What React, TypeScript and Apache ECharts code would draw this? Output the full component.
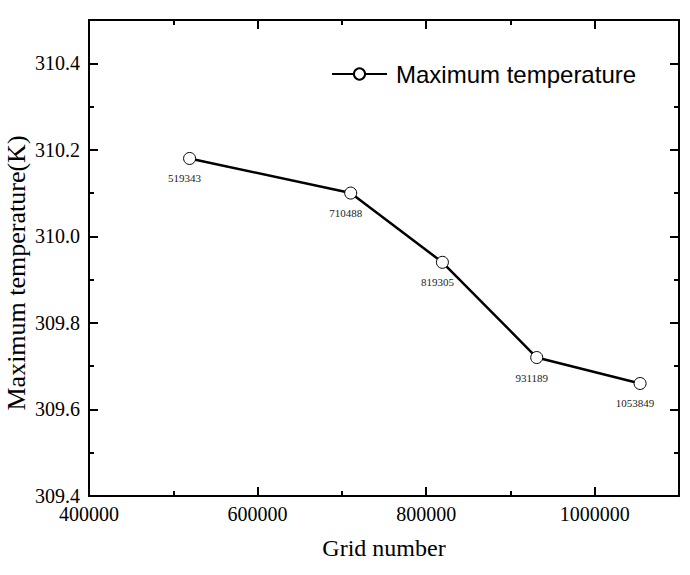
import React, { useEffect, useRef } from "react";
import * as echarts from "echarts";

const gridNumbers = [519343, 710488, 819305, 931189, 1053849];
const maxTemperatures = [310.18, 310.1, 309.94, 309.72, 309.66];
const seriesName = "Maximum temperature";
const xAxisTitle = "Grid number";
const yAxisTitle = "Maximum temperature(K)";
const xRange = [400000, 1100000];
const xStep = 200000;
const yRange = [309.4, 310.5];
const yStep = 0.2;

export default function App() {
  const ref = useRef<HTMLDivElement>(null);
  useEffect(() => {
    document.body.style.margin = "0";
    const chart = echarts.init(ref.current!, null, { renderer: "svg" });
    const serif = "Liberation Serif";
    const line = { color: "#000", width: 2 };
    const common = {
      type: "value",
      axisLine: { show: true, onZero: false, lineStyle: line },
      axisTick: { show: true, inside: true, length: 9, lineStyle: line },
      minorTick: { show: true, splitNumber: 2, length: 5, lineStyle: line },
      splitLine: { show: false },
      minorSplitLine: { show: false },
    };
    const xCommon = { ...common, min: xRange[0], max: xRange[1], interval: xStep };
    const yCommon = { ...common, min: yRange[0], max: yRange[1], interval: yStep };
    chart.setOption({
      animation: false,
      backgroundColor: "#fff",
      grid: { left: 89, right: 11, top: 20, bottom: 79, containLabel: false, outerBoundsMode: "none" },
      legend: {
        left: 326,
        top: 57,
        itemWidth: 55,
        itemHeight: 14,
        textStyle: {
          fontFamily: "Liberation Sans",
          fontSize: 24,
          color: "#000",
          padding: [0, 0, 0, 4],
        },
        data: [seriesName],
      },
      xAxis: [
        {
          ...xCommon,
          position: "bottom",
          name: xAxisTitle,
          nameLocation: "middle",
          nameGap: 40,
          nameMoveOverlap: false,
          nameTextStyle: { fontFamily: serif, fontSize: 24, color: "#000" },
          axisLabel: {
            show: true,
            margin: 8,
            showMaxLabel: false,
            fontFamily: serif,
            fontSize: 20,
            color: "#000",
            formatter: (v: number) => String(v),
          },
        },
        { ...xCommon, position: "top", axisLabel: { show: false } },
      ],
      yAxis: [
        {
          ...yCommon,
          position: "left",
          name: yAxisTitle,
          nameLocation: "middle",
          nameGap: 60,
          nameMoveOverlap: false,
          nameTextStyle: {
            fontFamily: serif,
            fontSize: 26,
            color: "#000",
            padding: [0, 30, 0, 0],
          },
          axisLabel: {
            show: true,
            margin: 9,
            showMaxLabel: false,
            fontFamily: serif,
            fontSize: 20,
            color: "#000",
            formatter: (v: number) => v.toFixed(1),
          },
        },
        { ...yCommon, position: "right", axisLabel: { show: false } },
      ],
      series: [
        {
          name: seriesName,
          type: "line",
          xAxisIndex: 0,
          yAxisIndex: 0,
          data: gridNumbers.map((g, i) => [g, maxTemperatures[i]]),
          symbol: "circle",
          symbolSize: 12,
          itemStyle: { color: "#fff", borderColor: "#000", borderWidth: 1 },
          lineStyle: { color: "#000", width: 2.5 },
          label: {
            show: true,
            position: "bottom",
            distance: 8,
            offset: [-5, 0],
            fontFamily: serif,
            fontSize: 11,
            color: "#222",
            formatter: (p: any) => String(p.value[0]),
          },
        },
      ],
    });
    return () => chart.dispose();
  }, []);
  return <div ref={ref} style={{ width: 690, height: 575 }} />;
}
